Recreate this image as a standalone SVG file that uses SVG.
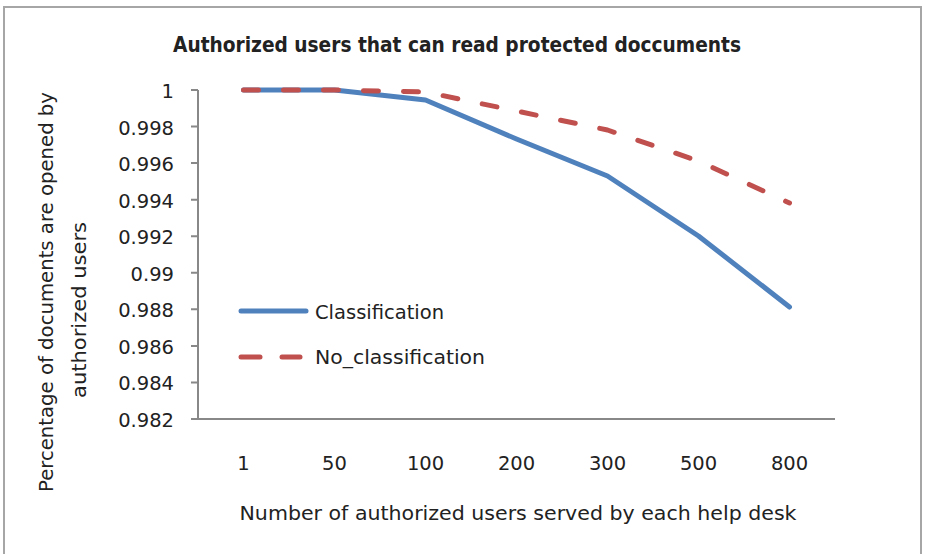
<svg xmlns="http://www.w3.org/2000/svg" width="925" height="554" viewBox="0 0 925 554">
<style>
text{font-family:"DejaVu Sans","Liberation Sans",sans-serif;fill:#222;}
.ylab{font-size:19.5px;text-anchor:end;}
.xlab{font-size:19.5px;text-anchor:middle;}
.axis{stroke:#888;stroke-width:2;fill:none;}
.blue{stroke:#4F81BD;stroke-width:5;fill:none;stroke-linejoin:round;stroke-linecap:round;}
.red{stroke:#C0504D;stroke-width:5;fill:none;stroke-linejoin:round;stroke-linecap:round;stroke-dasharray:15 25;}
</style>
<rect x="0" y="0" width="925" height="554" fill="#fff"/>
<rect id="frame" x="4" y="7" width="917" height="560" fill="#fff" stroke="#a6a6a6" stroke-width="2"/>
<text id="title" x="457" y="52" text-anchor="middle" font-family="Liberation Sans, sans-serif" font-weight="bold" font-size="21" textLength="568" lengthAdjust="spacingAndGlyphs">Authorized users that can read protected doccuments</text>
<g id="y-axis">
<path class="axis" d="M198,90V419M191,90H198M191,126.6H198M191,163.1H198M191,199.7H198M191,236.2H198M191,272.8H198M191,309.3H198M191,345.9H198M191,382.4H198M191,419H198"/>
<text class="ylab" x="174" y="98">1</text>
<text class="ylab" x="174" y="134.6">0.998</text>
<text class="ylab" x="174" y="171.1">0.996</text>
<text class="ylab" x="174" y="207.7">0.994</text>
<text class="ylab" x="174" y="244.2">0.992</text>
<text class="ylab" x="174" y="280.8">0.99</text>
<text class="ylab" x="174" y="317.3">0.988</text>
<text class="ylab" x="174" y="353.9">0.986</text>
<text class="ylab" x="174" y="390.4">0.984</text>
<text class="ylab" x="174" y="427">0.982</text>
</g>
<g id="x-axis">
<path class="axis" d="M191,419H835"/>
<text class="xlab" x="243.5" y="470">1</text>
<text class="xlab" x="334.5" y="470">50</text>
<text class="xlab" x="425.5" y="470">100</text>
<text class="xlab" x="516.5" y="470">200</text>
<text class="xlab" x="607.5" y="470">300</text>
<text class="xlab" x="698.5" y="470">500</text>
<text class="xlab" x="789.5" y="470">800</text>
</g>
<text id="x-title" x="518" y="520" text-anchor="middle" font-size="19" textLength="557" lengthAdjust="spacingAndGlyphs">Number of authorized users served by each help desk</text>
<g id="y-title" font-size="19">
<text transform="translate(53,292) rotate(-90)" text-anchor="middle" textLength="400" lengthAdjust="spacingAndGlyphs">Percentage of documents are opened by</text>
<text transform="translate(86,310) rotate(-90)" text-anchor="middle" textLength="176" lengthAdjust="spacingAndGlyphs">authorized users</text>
</g>
<g id="series">
<polyline id="classification" class="blue" points="243.5,90 334.5,90 425.5,100 516.5,139 607.5,176 698.5,236 789.5,307"/>
<polyline id="no-classification" class="red" points="243.5,90 334.5,90 425.5,92 516.5,111 607.5,130 698.5,161 789.5,203"/>
</g>
<g id="legend" font-size="19">
<line class="blue" x1="241" y1="311" x2="306" y2="311"/>
<text x="315" y="319" textLength="129" lengthAdjust="spacingAndGlyphs">Classification</text>
<line x1="241" y1="357" x2="260" y2="357" stroke="#C0504D" stroke-width="5" stroke-linecap="round"/>
<line x1="282" y1="357" x2="300" y2="357" stroke="#C0504D" stroke-width="5" stroke-linecap="round"/>
<text x="315" y="364" textLength="170" lengthAdjust="spacingAndGlyphs">No_classification</text>
</g>
</svg>
